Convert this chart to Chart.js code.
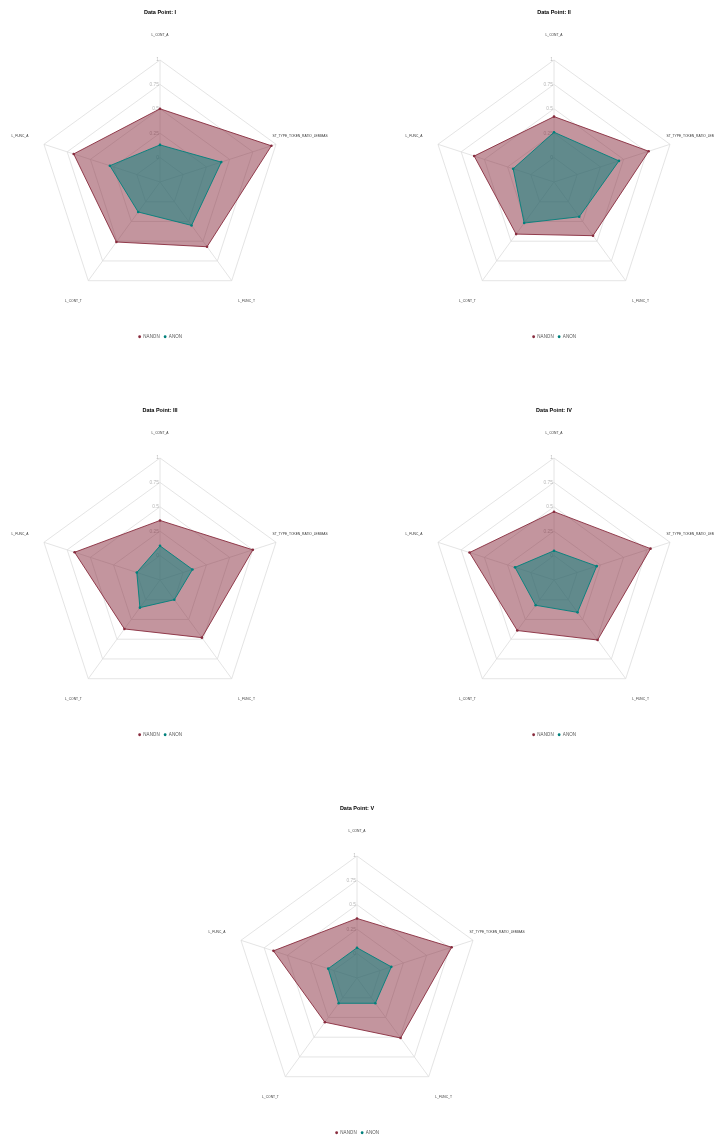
<!DOCTYPE html>
<html>
<head>
<meta charset="utf-8">
<script src="https://cdn.jsdelivr.net/npm/chart.js@4.4.0/dist/chart.umd.min.js"></script>
<style>
    html, body { margin: 0; padding: 0; background: #fff; }
    body { width: 714px; height: 1140px; position: relative; overflow: hidden; }
    .panel { position: absolute; width: 360px; height: 349px; }
</style>
</head>
<body>
<div class="panel" style="left:-20px;top:0px"><canvas id="radar0"></canvas></div>
<div class="panel" style="left:374px;top:0px"><canvas id="radar1"></canvas></div>
<div class="panel" style="left:-20px;top:398px"><canvas id="radar2"></canvas></div>
<div class="panel" style="left:374px;top:398px"><canvas id="radar3"></canvas></div>
<div class="panel" style="left:177px;top:796px"><canvas id="radar4"></canvas></div>
<script>
// axes of every radar, clockwise from the top
const axisLabels = ['L_CONT_A', 'ST_TYPE_TOKEN_RATIO_LEMMAS', 'L_FUNC_T', 'L_CONT_T', 'L_FUNC_A'];
const pointNames = ['I', 'II', 'III', 'IV', 'V'];
const tickValues = [0, 0.25, 0.5, 0.75, 1];
const tickLabels = ['0', '0.25', '0.5', '0.75', '1'];

// NANON values per data point
const nanonI   = [0.50, 0.95, 0.57, 0.51, 0.68];
const nanonII  = [0.42, 0.77, 0.43, 0.41, 0.61];
const nanonIII = [0.36, 0.75, 0.48, 0.37, 0.67];
const nanonIV  = [0.45, 0.79, 0.51, 0.39, 0.66];
const nanonV   = [0.36, 0.77, 0.51, 0.31, 0.65];

// ANON values per data point
const anonI   = [0.13, 0.41, 0.30, 0.13, 0.29];
const anonII  = [0.26, 0.45, 0.19, 0.27, 0.19];
const anonIII = [0.10, 0.10, 0.00, 0.10, 0.00];
const anonIV  = [0.05, 0.21, 0.16, 0.07, 0.17];
const anonV   = [0.06, 0.12, 0.07, 0.07, 0.06];

const nanonSets = [nanonI, nanonII, nanonIII, nanonIV, nanonV];
const anonSets = [anonI, anonII, anonIII, anonIV, anonV];

const NANON_COLOR = '#882B3D';
const ANON_COLOR = '#00807C';
const FONT = '"Liberation Sans", Arial, sans-serif';

// axis names and tick values, placed with the radial scale
const radarText = {
    id: 'radarText',
    beforeDatasetsDraw(chart) {
        const scale = chart.scales.r;
        const ctx = chart.ctx;
        ctx.save();
        ctx.textBaseline = 'middle';

        ctx.textAlign = 'center';
        ctx.font = '3.3px ' + FONT;
        ctx.fillStyle = '#333';
        axisLabels.forEach((label, i) => {
            const p = scale.getPointPosition(i, scale.drawingArea * 1.207);
            ctx.fillText(label, p.x, p.y);
        });

        ctx.textAlign = 'right';
        ctx.font = '4.8px ' + FONT;
        ctx.fillStyle = '#b8b8b8';
        tickValues.forEach((v, j) => {
            const p = scale.getPointPositionForValue(0, v);
            ctx.fillText(tickLabels[j], p.x - 1.2, p.y);
        });
        ctx.restore();
    }
};

function solidLabels(chart) {
    const items = Chart.defaults.plugins.legend.labels.generateLabels(chart);
    items.forEach(item => {
        const ds = chart.data.datasets[item.datasetIndex];
        item.fillStyle = ds.borderColor;
        item.strokeStyle = ds.borderColor;
        item.lineWidth = 0;
    });
    return items;
}

function makeRadar(idx) {
    const ctx = document.getElementById('radar' + idx);
    return new Chart(ctx, {
        type: 'radar',
        data: {
            labels: axisLabels,
            datasets: [{
                label: 'NANON',
                data: nanonSets[idx],
                borderColor: NANON_COLOR,
                backgroundColor: 'rgba(136, 43, 61, 0.5)',
                pointBackgroundColor: NANON_COLOR,
                pointBorderWidth: 0,
                pointRadius: 1.3,
                borderWidth: 0.9,
                fill: 'start',
                order: 2
            }, {
                label: 'ANON',
                data: anonSets[idx],
                borderColor: ANON_COLOR,
                backgroundColor: 'rgba(0, 128, 124, 0.5)',
                pointBackgroundColor: ANON_COLOR,
                pointBorderWidth: 0,
                pointRadius: 1.3,
                borderWidth: 0.9,
                fill: 'start',
                order: 1
            }]
        },
        options: {
            responsive: true,
            maintainAspectRatio: false,
            animation: false,
            layout: {
                padding: { left: 57.6, right: 57.6 }
            },
            elements: {
                line: { tension: 0 }
            },
            plugins: {
                title: {
                    display: true,
                    text: 'Data Point: ' + pointNames[idx],
                    color: '#000',
                    font: { family: FONT, size: 5.5, weight: 'bold' },
                    padding: { top: 9.4, bottom: 18.9 }
                },
                legend: {
                    position: 'bottom',
                    labels: {
                        usePointStyle: true,
                        pointStyle: 'circle',
                        boxWidth: 3,
                        boxHeight: 2,
                        padding: 4,
                        color: '#555',
                        font: { family: FONT, size: 4.5 },
                        generateLabels: solidLabels,
                        sort: (a, b) => a.datasetIndex - b.datasetIndex
                    }
                },
                tooltip: { enabled: false }
            },
            scales: {
                r: {
                    min: -0.25,
                    max: 1,
                    ticks: { stepSize: 0.25, display: false },
                    pointLabels: { display: false },
                    grid: { color: '#dddddd', lineWidth: 0.8 },
                    angleLines: { color: '#dddddd', lineWidth: 0.8 }
                }
            }
        },
        plugins: [radarText]
    });
}

pointNames.forEach((name, i) => makeRadar(i));
</script>
</body>
</html>
